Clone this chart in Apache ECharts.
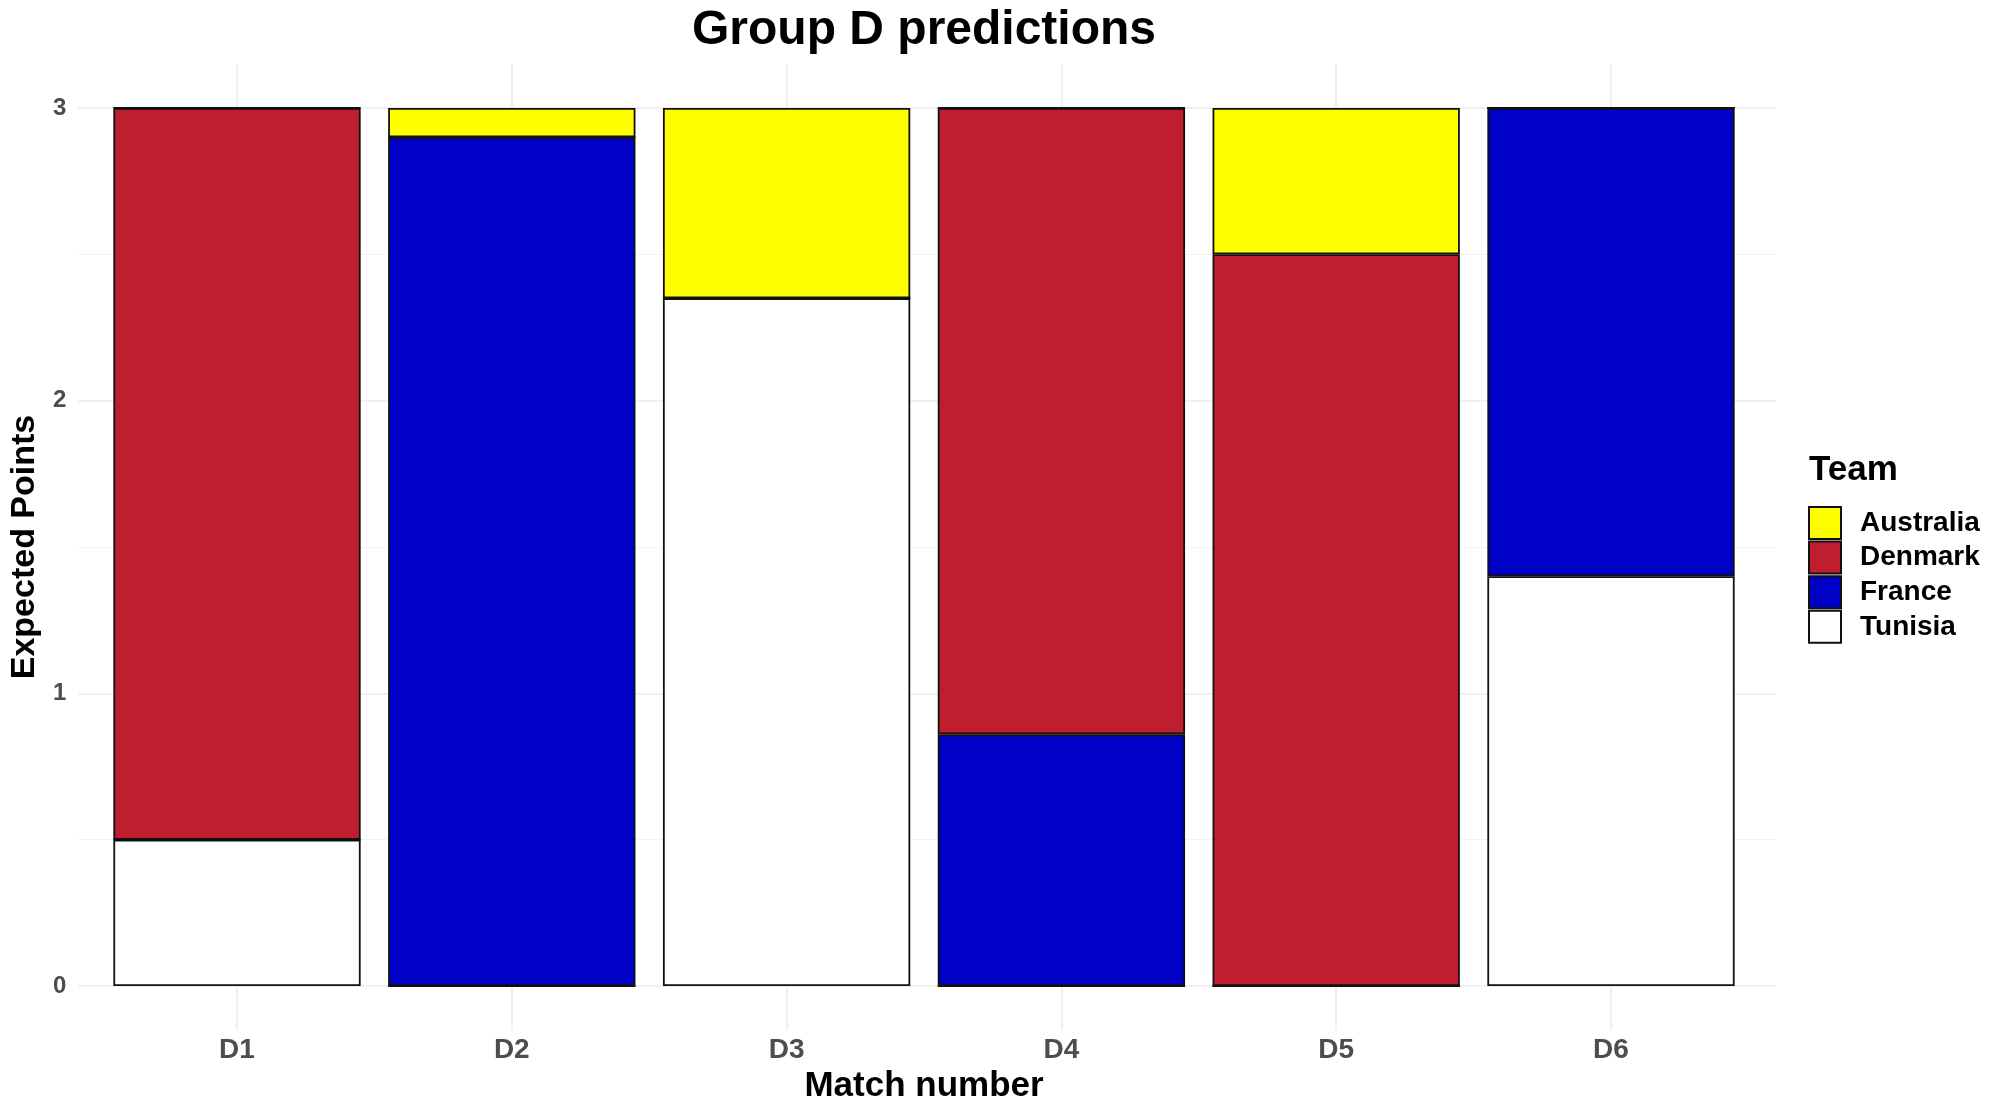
<!DOCTYPE html>
<html>
<head>
<meta charset="utf-8">
<script src="https://cdn.jsdelivr.net/npm/echarts@6/dist/echarts.min.js"></script>
<style>
html,body{margin:0;padding:0;background:#ffffff;}
#chart{width:1999px;height:1112px;}
</style>
</head>
<body>
<div id="chart"></div>
<script>
// ---- data ----
const matches = ['D1', 'D2', 'D3', 'D4', 'D5', 'D6'];
const legendOrder = ['Australia', 'Denmark', 'France', 'Tunisia'];
const australia = [0, 0.10, 0.65, 0, 0.50, 0];
const denmark   = [2.50, 0, 0, 2.14, 2.50, 0];
const france    = [0, 2.90, 0, 0.86, 0, 1.60];
const tunisia   = [0.50, 0, 2.35, 0, 0, 1.40];
const yMajor = [0, 1, 2, 3];
const yMinor = [0.5, 1.5, 2.5];

// ---- styles ----
const FONT = 'Liberation Sans, Arial, Helvetica, sans-serif';
const colors = { Australia: '#FFFF00', Denmark: '#BE1E2D', France: '#0000C6', Tunisia: '#FFFFFF' };
const BORDER = '#111111';
const Y_MIN = -0.15, Y_MAX = 3.15;

const chart = echarts.init(document.getElementById('chart'), null, { renderer: 'canvas' });

const hLines = [];
yMajor.forEach(v => hLines.push({ yAxis: v, lineStyle: { color: '#EBEBEB', width: 1.6, type: 'solid' } }));
yMinor.forEach(v => hLines.push({ yAxis: v, lineStyle: { color: '#F2F2F2', width: 0.9, type: 'solid' } }));
const vLines = matches.map(m => ({ xAxis: m, lineStyle: { color: '#EBEBEB', width: 1.6, type: 'solid' } }));

function gridMarkLine(data) {
  return { silent: true, symbol: ['none', 'none'], z: 1, label: { show: false }, animation: false, data: data };
}

function barSeries(name, data, withGrid) {
  const s = {
    name: name,
    type: 'bar',
    stack: 'pts',
    xAxisIndex: 0,
    yAxisIndex: 0,
    data: data,
    barCategoryGap: '10%',
    z: 3,
    itemStyle: { color: colors[name], borderColor: BORDER, borderWidth: 1.8 },
    emphasis: { disabled: true }
  };
  if (withGrid) s.markLine = gridMarkLine(vLines);
  return s;
}

const option = {
  animation: false,
  backgroundColor: '#ffffff',
  title: {
    text: 'Group D predictions',
    left: 924,
    top: 7,
    padding: 0,
    textAlign: 'center',
    textStyle: { fontFamily: FONT, fontWeight: 'bold', fontSize: 48, color: '#000000' }
  },
  grid: [
    // bars: exactly six category bands
    { left: 99.6, right: 250.6, top: 64, bottom: 82, containLabel: false },
    // full panel (with ggplot-style expansion) for the horizontal grid lines and y labels
    { left: 72, right: 223, top: 64, bottom: 82, containLabel: false }
  ],
  legend: {
    orient: 'vertical',
    left: 1808,
    top: 506,
    padding: 0,
    icon: 'rect',
    itemWidth: 32,
    itemHeight: 32,
    itemGap: 0.6,
    data: legendOrder,
    selectedMode: false,
    textStyle: { fontFamily: FONT, fontWeight: 'bold', fontSize: 28, color: '#000000', padding: [0, 0, 0, 14] }
  },
  graphic: [
    {
      type: 'text',
      left: 1809,
      top: 453,
      style: { text: 'Team', fontFamily: FONT, fontWeight: 'bold', fontSize: 35, fill: '#000000' }
    }
  ],
  xAxis: [
    {
      type: 'category',
      gridIndex: 0,
      data: matches,
      name: 'Match number',
      nameLocation: 'middle',
      nameGap: 37,
      nameTextStyle: { fontFamily: FONT, fontWeight: 'bold', fontSize: 35, color: '#000000' },
      axisLine: { show: false },
      axisTick: { show: false },
      splitLine: { show: false },
      axisLabel: { margin: 6, fontFamily: FONT, fontWeight: 'bold', fontSize: 28, color: '#4D4D4D' }
    },
    {
      type: 'value',
      gridIndex: 1,
      min: 0,
      max: 1,
      show: false
    }
  ],
  yAxis: [
    {
      type: 'value',
      gridIndex: 0,
      min: Y_MIN,
      max: Y_MAX,
      show: false,
      splitLine: { show: false }
    },
    {
      type: 'value',
      gridIndex: 1,
      min: Y_MIN,
      max: Y_MAX,
      name: 'Expected Points',
      nameLocation: 'middle',
      nameGap: 36,
      nameTextStyle: { fontFamily: FONT, fontWeight: 'bold', fontSize: 34, color: '#000000' },
      axisLine: { show: false },
      axisTick: { show: false },
      splitLine: { show: false },
      axisLabel: {
        customValues: yMajor,
        margin: 12,
        fontFamily: FONT,
        fontWeight: 'bold',
        fontSize: 24,
        color: '#4D4D4D',
        formatter: v => String(Math.round(v))
      }
    }
  ],
  series: [
    {
      name: 'panelGrid',
      type: 'scatter',
      xAxisIndex: 1,
      yAxisIndex: 1,
      data: [],
      silent: true,
      markLine: gridMarkLine(hLines)
    },
    barSeries('Tunisia', tunisia, true),
    barSeries('France', france, false),
    barSeries('Denmark', denmark, false),
    barSeries('Australia', australia, false)
  ]
};

chart.setOption(option);
</script>
</body>
</html>
